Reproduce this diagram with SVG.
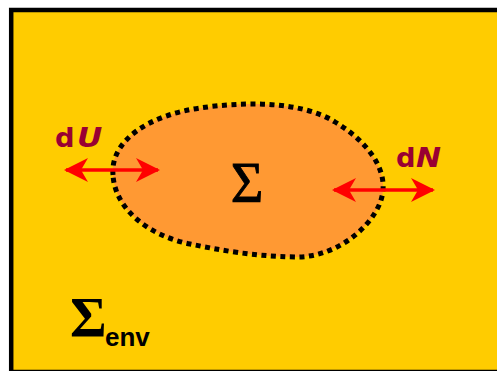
<svg xmlns="http://www.w3.org/2000/svg" width="497" height="371" viewBox="0 0 497 371">
<style>
.lbl{font-family:"DejaVu Sans",Verdana,sans-serif;font-weight:bold;font-size:26px;fill:#990033}
.it{font-style:italic}
.sig{font-family:"Liberation Serif","Times New Roman",serif;fill:#000}
.arr{stroke:#FF0000;stroke-width:3.5;fill:none}
</style>
<defs>
<marker id="ah" markerUnits="userSpaceOnUse" markerWidth="30" markerHeight="30" viewBox="-25 -15 30 30" refX="0" refY="0" orient="auto-start-reverse">
<path d="M2,0 L-22,-12 L-15,0 L-22,12 Z" fill="#FF0000"/>
</marker>
</defs>
<rect id="env" x="11.2" y="10" width="500" height="362" fill="#FFCC00" stroke="#000" stroke-width="4.5"/>
<g id="system">
<path d="M113,175 C110,140 150,115 200,108 C240,102 300,100 335,122 C365,140 385,165 383,190 C381,220 340,258 295,257 C250,256 220,250 190,244 C150,236 115,210 113,175 Z" fill="#FF9933" stroke="#000" stroke-width="5" stroke-dasharray="5 4.5"/>
<text class="sig" x="247" y="202" font-size="56" text-anchor="middle" stroke="#000" stroke-width="0.9">Σ</text>
</g>
<g id="connectors">
<line class="arr" x1="66" y1="170" x2="158" y2="170" marker-start="url(#ah)" marker-end="url(#ah)"/>
<line class="arr" x1="334" y1="190" x2="433" y2="190" marker-start="url(#ah)" marker-end="url(#ah)"/>
</g>
<g id="labelU">
<text class="lbl" transform="translate(55,147) scale(1.05,1)">d</text>
<text class="lbl it" transform="translate(77,147) scale(1.2,1)">U</text>
</g>
<g id="labelN">
<text class="lbl" transform="translate(396,167) scale(1.05,1)">d</text>
<text class="lbl it" transform="translate(416,167) scale(1.15,1)">N</text>
</g>
<g id="envlabel">
<text class="sig" x="70" y="337" font-size="56" font-weight="bold">Σ</text>
<text x="105" y="346" font-family="'Liberation Sans',Arial,sans-serif" font-weight="bold" font-size="26">env</text>
</g>
</svg>
